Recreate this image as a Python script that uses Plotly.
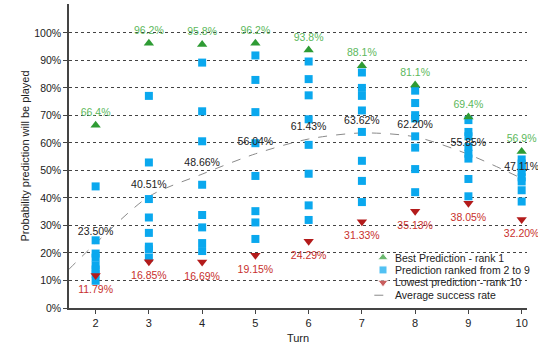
import plotly.graph_objects as go

turns = [2, 3, 4, 5, 6, 7, 8, 9, 10]
best = [66.4, 96.2, 95.8, 96.2, 93.8, 88.1, 81.1, 69.4, 56.9]
lowest = [11.79, 16.85, 16.69, 19.15, 24.29, 31.33, 35.13, 38.05, 32.20]
average = [23.50, 40.51, 48.66, 56.04, 61.43, 63.62, 62.20, 55.85, 47.11]
# average curve as drawn (it starts at the y axis, x = 1.5)
avg_curve_x = [1.5, 2, 3, 4, 5, 6, 7, 8, 9, 10]
avg_curve_y = [14.1, 23.50, 40.51, 48.66, 56.04, 61.43, 63.62, 62.20, 55.85, 47.11]
middle = {
    2: [44.2, 24.6, 19.8, 18.3, 15.5, 14.0, 12.5, 9.9],
    3: [77.1, 52.9, 39.6, 32.9, 27.3, 22.3, 21.3, 18.3],
    4: [89.2, 71.5, 60.6, 44.8, 33.8, 29.3, 23.6, 20.7],
    5: [91.8, 82.9, 71.2, 59.9, 48.0, 35.2, 31.1, 25.1],
    6: [89.6, 83.2, 77.3, 68.6, 59.3, 48.8, 37.3, 32.0],
    7: [85.6, 80.0, 77.1, 71.8, 64.0, 53.5, 46.2, 38.5],
    8: [79.0, 74.5, 70.1, 68.9, 62.4, 58.3, 50.5, 42.1],
    9: [68.3, 64.0, 62.4, 58.5, 56.1, 54.3, 46.9, 40.6],
    10: [54.0, 52.5, 51.0, 49.5, 47.5, 46.0, 42.8, 38.7],
}
y_ticks = [0, 10, 20, 30, 40, 50, 60, 70, 80, 90, 100]
y_tick_labels = [f"{v}%" for v in y_ticks]
legend_labels = ["Best Prediction - rank 1", "Prediction ranked from 2 to 9",
                 "Lowest prediction - rank 10", "Average success rate"]

FONT = "Liberation Sans, Arial, Helvetica, sans-serif"
GREEN = "#2e9b34"
GREEN_TXT = "#5cb85c"
BLUE = "#0aa8ee"
RED = "#b31b1b"
RED_TXT = "#c8302c"

mid_x = [t for t in turns for _ in middle[t]]
mid_y = [v for t in turns for v in middle[t]]

fig = go.Figure()

fig.add_trace(go.Scatter(
    x=avg_curve_x, y=avg_curve_y, mode="lines",
    line=dict(color="#8a8a8a", width=1, dash="dash", shape="spline", smoothing=0.8),
    hoverinfo="skip", showlegend=False))

fig.add_trace(go.Scatter(
    x=mid_x, y=mid_y, mode="markers",
    marker=dict(symbol="square", size=8, color=BLUE),
    showlegend=False))

fig.add_trace(go.Scatter(
    x=turns, y=best, mode="markers+text", cliponaxis=False,
    marker=dict(symbol="triangle-up", size=9, color=GREEN),
    text=[f"{v:.1f}%" for v in best], textposition="top center",
    textfont=dict(color=GREEN_TXT, size=10.5, family=FONT),
    showlegend=False))

fig.add_trace(go.Scatter(
    x=turns, y=lowest, mode="markers", cliponaxis=False,
    marker=dict(symbol="triangle-down", size=9, color=RED),
    showlegend=False))
fig.add_trace(go.Scatter(
    x=turns, y=lowest, mode="markers+text", cliponaxis=False,
    marker=dict(size=14, opacity=0),
    text=[f"{v:.2f}%" for v in lowest], textposition="bottom center",
    textfont=dict(color=RED_TXT, size=10.5, family=FONT),
    hoverinfo="skip", showlegend=False))

fig.add_trace(go.Scatter(
    x=turns, y=average, mode="markers+text", cliponaxis=False,
    marker=dict(size=8, opacity=0),
    text=[f"{v:.2f}%" for v in average], textposition="top center",
    textfont=dict(color="#222222", size=10.5, family=FONT),
    hoverinfo="skip", showlegend=False))

# manual compact legend (keys on a hidden overlay axis in paper units)
key_x = 0.6856
key_y = [0.166, 0.1252, 0.0841, 0.042]
fig.add_trace(go.Scatter(
    x=[key_x] * 3, y=key_y[:3], xaxis="x2", yaxis="y2", mode="markers",
    marker=dict(symbol=["triangle-up", "square", "triangle-down"], size=[9, 8, 9],
                color=[GREEN, BLUE, RED]),
    hoverinfo="skip", showlegend=False))
fig.add_trace(go.Scatter(
    x=[key_x - 0.019, key_x + 0.019], y=[key_y[3]] * 2, xaxis="x2", yaxis="y2",
    mode="lines", line=dict(color="#8a8a8a", width=1, dash="dash"),
    hoverinfo="skip", showlegend=False))
for lbl, yy in zip(legend_labels, key_y):
    fig.add_annotation(x=0.7074, y=yy, xref="paper", yref="paper", text=lbl,
                       showarrow=False, xanchor="left", yanchor="middle",
                       font=dict(size=10.5, color="#222222", family=FONT))

fig.update_layout(
    width=538, height=347,
    margin=dict(l=69, r=11, t=4, b=34),
    paper_bgcolor="white", plot_bgcolor="white",
    font=dict(family=FONT, size=10.5, color="#222222"),
    showlegend=False,
    xaxis=dict(range=[1.5, 10.1], tickvals=turns, showgrid=False, zeroline=False,
               showline=True, linecolor="#444444", linewidth=1.5,
               ticks="outside", ticklen=4, tickcolor="#444444",
               tickfont=dict(size=11), title=dict(text="Turn", font=dict(size=11), standoff=6)),
    yaxis=dict(range=[0, 110.5], tickmode="array", tickvals=y_ticks, ticktext=y_tick_labels,
               showgrid=True, gridcolor="#444444", gridwidth=1, griddash="dot",
               zeroline=False, showline=True, linecolor="#444444", linewidth=1.5,
               ticks="outside", ticklen=4, tickcolor="#444444",
               tickfont=dict(size=10.5),
               title=dict(text="Probability prediction will be played", font=dict(size=11), standoff=2)),
    xaxis2=dict(overlaying="x", range=[0, 1], visible=False),
    yaxis2=dict(overlaying="y", range=[0, 1], visible=False),
)

fig.write_html("out.html")
